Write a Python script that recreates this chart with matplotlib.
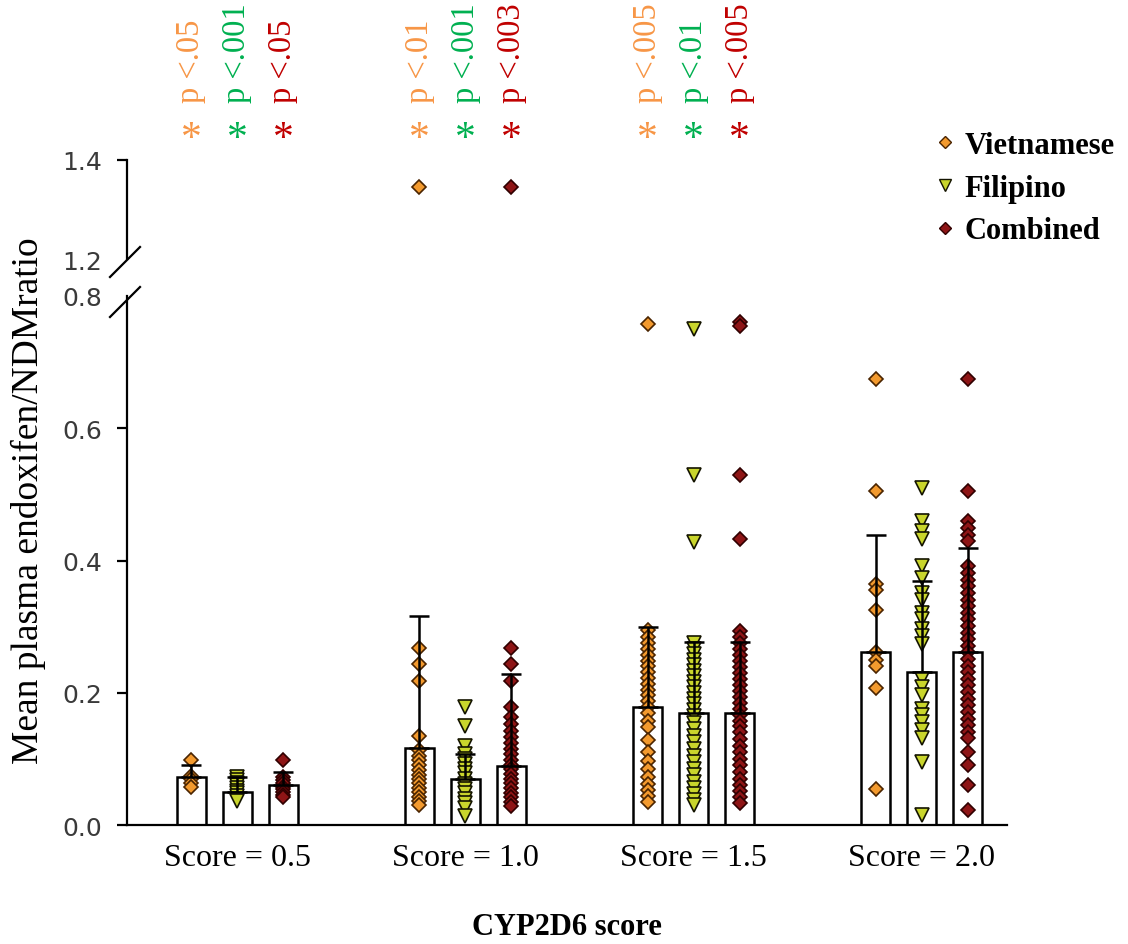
import matplotlib
matplotlib.use('Agg')
import matplotlib.pyplot as plt
from matplotlib.lines import Line2D
import matplotlib.transforms as mtransforms

# ---------------- data ----------------
groups = ['Score = 0.5', 'Score = 1.0', 'Score = 1.5', 'Score = 2.0']
series = ['Vietnamese', 'Filipino', 'Combined']

viet_means = [0.072, 0.117, 0.179, 0.261]
fil_means = [0.050, 0.069, 0.169, 0.231]
comb_means = [0.060, 0.089, 0.169, 0.261]

viet_sd = [0.018, 0.199, 0.120, 0.178]
fil_sd = [0.023, 0.039, 0.108, 0.138]
comb_sd = [0.020, 0.139, 0.108, 0.158]

viet_pts = [
    [0.099, 0.074, 0.069, 0.063, 0.057],
    [1.345, 0.268, 0.243, 0.218, 0.135, 0.113, 0.105, 0.098, 0.090, 0.083, 0.076,
     0.070, 0.063, 0.056, 0.050, 0.043, 0.036, 0.030],
    [0.758, 0.295, 0.285, 0.275, 0.266, 0.257, 0.248, 0.240, 0.231, 0.222, 0.213,
     0.204, 0.196, 0.187, 0.178, 0.169, 0.158, 0.148, 0.128, 0.110, 0.097, 0.084,
     0.072, 0.062, 0.053, 0.044, 0.035],
    [0.675, 0.505, 0.365, 0.355, 0.325, 0.262, 0.250, 0.240, 0.207, 0.055],
]
fil_pts = [
    [0.072, 0.068, 0.064, 0.060, 0.056, 0.052, 0.048, 0.044, 0.040, 0.036],
    [0.178, 0.150, 0.120, 0.108, 0.100, 0.092, 0.085, 0.078, 0.070, 0.062, 0.055,
     0.048, 0.040, 0.033, 0.025, 0.013],
    [0.750, 0.530, 0.428, 0.275, 0.266, 0.258, 0.250, 0.242, 0.233, 0.225, 0.216,
     0.208, 0.200, 0.191, 0.183, 0.174, 0.165, 0.155, 0.145, 0.135, 0.125, 0.115,
     0.105, 0.095, 0.085, 0.075, 0.065, 0.056, 0.047, 0.038, 0.030],
    [0.509, 0.459, 0.444, 0.432, 0.392, 0.374, 0.351, 0.341, 0.321, 0.311, 0.296,
     0.286, 0.274, 0.221, 0.208, 0.196, 0.176, 0.166, 0.156, 0.143, 0.131, 0.095,
     0.015],
]
comb_pts = [
    [0.099, 0.072, 0.068, 0.063, 0.058, 0.054, 0.050, 0.046, 0.042],
    [1.345, 0.268, 0.243, 0.218, 0.178, 0.163, 0.152, 0.142, 0.133, 0.124, 0.115,
     0.107, 0.099, 0.091, 0.084, 0.077, 0.070, 0.063, 0.056, 0.049, 0.042, 0.035,
     0.028],
    [0.760, 0.755, 0.530, 0.432, 0.293, 0.284, 0.275, 0.266, 0.257, 0.248, 0.239,
     0.230, 0.221, 0.212, 0.203, 0.194, 0.185, 0.176, 0.167, 0.158, 0.149, 0.140,
     0.130, 0.120, 0.110, 0.100, 0.090, 0.080, 0.070, 0.060, 0.051, 0.042, 0.034],
    [0.675, 0.505, 0.459, 0.449, 0.439, 0.429, 0.392, 0.381, 0.371, 0.361, 0.351,
     0.341, 0.331, 0.321, 0.311, 0.301, 0.291, 0.281, 0.271, 0.261, 0.251, 0.241,
     0.231, 0.221, 0.211, 0.201, 0.191, 0.181, 0.171, 0.161, 0.151, 0.141, 0.131,
     0.110, 0.090, 0.060, 0.023],
]

p_texts = [
    ['p <.05', 'p <.001', 'p <.05'],
    ['p <.01', 'p <.001', 'p <.003'],
    ['p <.005', 'p <.01', 'p <.005'],
]

yticks_low = [0.0, 0.2, 0.4, 0.6, 0.8]
yticks_up = [1.2, 1.4]

# ---------------- style ----------------
SERIF = 'Liberation Serif'
faces = ['#F39A2E', '#C9D52C', '#8E1516']
edges = ['#4a2400', '#141400', '#300000']
markers = ['D', 'v', 'D']
msizes = [7.5, 10.5, 7.5]
txt_colors = ['#F79646', '#00B050', '#C00000']
offsets = [-0.2015, 0.0, 0.2015]
bar_w = 0.127

W, H = 1128, 945
fig = plt.figure(figsize=(W / 100, H / 100), dpi=100)

def fx(px):
    return px / W

def fy(py):
    return 1 - py / H

left, right = 127, 1007
ax_low = fig.add_axes([fx(left), fy(826), fx(right - left), (826 - 297) / H])
ax_up = fig.add_axes([fx(left), fy(260), fx(right - left), (260 - 161) / H], sharex=ax_low)

means = [viet_means, fil_means, comb_means]
sds = [viet_sd, fil_sd, comb_sd]
pts = [viet_pts, fil_pts, comb_pts]

for ax in (ax_low, ax_up):
    for s in range(3):
        xs = [g + offsets[s] for g in range(len(groups))]
        ax.bar(xs, means[s], width=bar_w, color='white', edgecolor='black',
               linewidth=1.8, zorder=1)
        for g in range(len(groups)):
            vals = pts[s][g]
            ax.plot([xs[g]] * len(vals), vals, linestyle='none', marker=markers[s],
                    markersize=msizes[s], markerfacecolor=faces[s],
                    markeredgecolor=edges[s], markeredgewidth=1.2, zorder=2)
        ax.errorbar(xs, means[s], yerr=[[0] * len(groups), sds[s]], fmt='none',
                    ecolor='black', elinewidth=1.8, capsize=7, capthick=1.8, zorder=3)

ax_low.set_xlim(-0.482, 3.373)
ax_low.set_ylim(0, 0.8)
ax_up.set_ylim(1.2, 1.4)

for ax in (ax_low, ax_up):
    ax.spines['top'].set_visible(False)
    ax.spines['right'].set_visible(False)
    ax.spines['left'].set_linewidth(1.6)
    ax.spines['bottom'].set_linewidth(1.6)
    ax.tick_params(axis='y', direction='out', length=7, width=1.6, pad=11,
                   labelsize=18, labelcolor='#3a3a3a', color='black')

ax_up.spines['bottom'].set_visible(False)
ax_up.tick_params(axis='x', bottom=False, labelbottom=False)

ax_low.set_yticks(yticks_low)
ax_low.set_yticklabels(['%.1f' % v for v in yticks_low], family='DejaVu Sans')
ax_low.yaxis.get_major_ticks()[-1].tick1line.set_visible(False)
ax_up.set_yticks(yticks_up)
ax_up.set_yticklabels(['%.1f' % v for v in yticks_up], family='DejaVu Sans')
ax_up.yaxis.get_major_ticks()[0].tick1line.set_visible(False)

ax_low.set_xticks(range(len(groups)))
ax_low.set_xticklabels(groups, family=SERIF, fontsize=23)
ax_low.tick_params(axis='x', length=0, pad=13)

# axis break marks
for cy in (261, 301):
    fig.add_artist(Line2D([fx(110), fx(140)], [fy(cy + 17), fy(cy - 13)],
                          color='black', linewidth=1.6, transform=fig.transFigure))

# axis titles
fig.text(fx(28), fy(501), 'Mean plasma endoxifen/NDMratio', rotation=90,
         ha='center', va='center', family=SERIF, fontsize=27)
fig.text(fx(567), fy(928), 'CYP2D6 score', ha='center', va='center',
         family=SERIF, fontsize=22, fontweight='bold')

# p-value annotations
trans = mtransforms.blended_transform_factory(ax_low.transData, fig.transFigure)
for g, row in enumerate(p_texts):
    for s, t in enumerate(row):
        x = g + offsets[s]
        fig.text(x, fy(103), t, rotation=90, ha='center', va='bottom',
                 family=SERIF, fontsize=23.5, color=txt_colors[s], transform=trans)
        fig.text(x, fy(150), '*', ha='center', va='baseline',
                 family=SERIF, fontsize=30, color=txt_colors[s], transform=trans)

# legend
handles = [Line2D([], [], linestyle='none', marker=markers[s], markersize=msizes[s] * 0.8,
                  markerfacecolor=faces[s], markeredgecolor=edges[s], markeredgewidth=1.0)
           for s in range(3)]
fig.legend(handles, series, loc='upper left', bbox_to_anchor=(fx(934), fy(132)),
           frameon=False, prop={'family': SERIF, 'size': 22, 'weight': 'bold'},
           handlelength=0.7, handletextpad=0.3, labelspacing=0.45, borderpad=0,
           borderaxespad=0)

fig.savefig('out.png', dpi=100)
